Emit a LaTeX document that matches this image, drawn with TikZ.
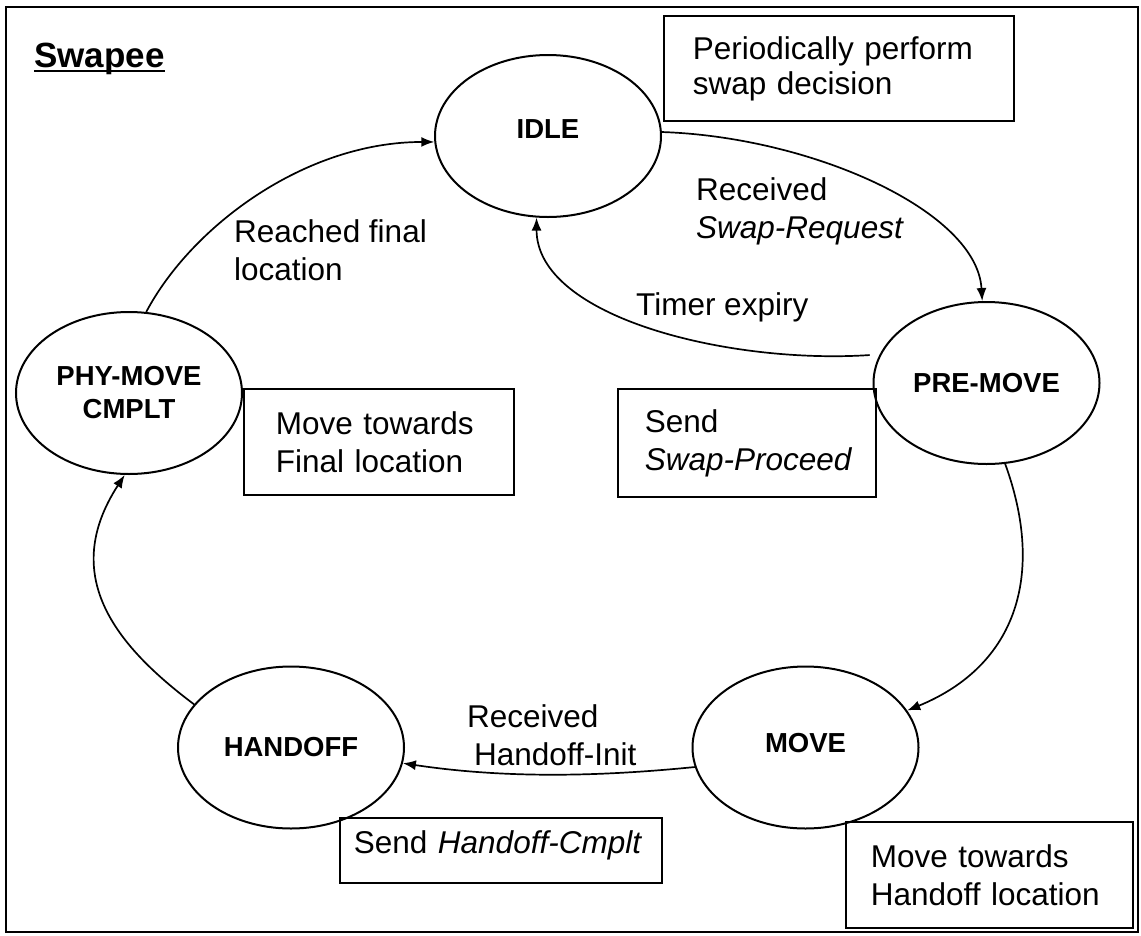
\documentclass[tikz,border=0pt]{standalone}
\usepackage{fontspec}
\setmainfont{Liberation Sans}
\usetikzlibrary{shapes.geometric,arrows.meta}
% underline drawn just below the baseline, across descenders
\newcommand\ulbar[1]{\setbox0\hbox{#1}\rlap{\rule[-5pt]{\wd0}{2.5pt}}\box0}

\begin{document}
\begin{tikzpicture}[x=1pt,y=-1pt,
  state/.style={ellipse, draw, line width=2pt, minimum width=226pt, minimum height=162pt,
    inner sep=0pt, align=center, font=\fontsize{27.5}{33}\selectfont\bfseries},
  note/.style={draw, line width=1.8pt, anchor=north west, align=left, inner ysep=0pt,
    font=\fontsize{31.5}{38}\selectfont},
  lbl/.style={inner sep=0pt, align=left, anchor=north west,
    font=\fontsize{31.5}{38}\selectfont},
  trans/.style={line width=1.7pt, -{Latex[length=13pt,width=10pt]}}
]
\useasboundingbox (0,0) rectangle (1141,935);
% outer frame
\draw[line width=2pt] (6,7) rectangle (1138,932);

% title
\node[inner sep=0pt, anchor=base west, font=\fontsize{35}{40}\selectfont\bfseries]
  (title) at (34,67) {\ulbar{Swapee}};

% states
\node[state, text depth=14pt] (idle) at (548,136) {IDLE};
\node[state] (pre) at (986.5,383) {PRE-MOVE};
\node[state, text depth=10pt] (move) at (805.5,747.5) {MOVE};
\node[state] (handoff) at (291,747.5) {HANDOFF};
\node[state] (phy) at (129,393) {PHY-MOVE\\CMPLT};

% action boxes
\node[note, inner xsep=29pt, text width=292pt, minimum height=105pt, font=\fontsize{31.5}{35}\selectfont]
  (nidle) at (663,15) {\mbox{Periodically perform}\\\mbox{swap decision}};
\node[note, inner xsep=32pt, text width=206pt, minimum height=106pt]
  (nphy) at (243,388) {\mbox{Move towards}\\\mbox{Final location}};
\node[note, inner xsep=27pt, text width=204pt, minimum height=108pt]
  (npre) at (617,388) {Send\\\mbox{\textit{Swap-Proceed}}};
\node[note, inner xsep=14pt, text width=294pt, minimum height=65pt, text depth=16pt]
  (nhand) at (339,817) {\mbox{Send \textit{Handoff-Cmplt}}};
\node[note, inner xsep=25pt, text width=237pt, minimum height=106pt]
  (nmove) at (845,821) {\mbox{Move towards}\\\mbox{Handoff location}};

% transition labels
\node[lbl] (lreach) at (234,219) {Reached final\\location};
\node[lbl] (lreq) at (696,177) {Received\\\textit{Swap-Request}};
\node[lbl] (ltimer) at (636,292) {Timer expiry};
\node[lbl] (linit) at (467,704) {Received\\\hspace*{7pt}Handoff-Init};

% transitions
\draw[trans] (phy.78) .. controls +(45,-85) and +(-130,0) .. (idle.183);
\draw[trans] (idle.2) .. controls +(150,5) and +(-5,-90) .. (pre.93);
\draw[trans, shorten <=10pt] (pre.165) .. controls +(-150,10) and +(0,100) .. (idle.262);
\draw[trans] (pre.-77) .. controls +(40,110) and +(110,-45) .. (move.20);
\draw[trans] (move.190) .. controls +(-100,10) and +(100,15) .. (handoff.-8);
\draw[trans] (handoff.156) .. controls +(-80,-60) and +(-65,100) .. (phy.-93);
\end{tikzpicture}
\end{document}
